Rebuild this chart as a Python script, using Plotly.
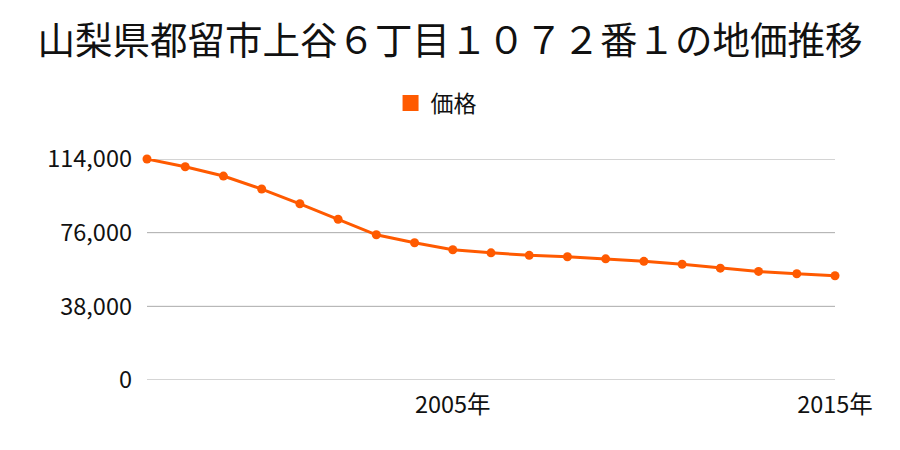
import plotly.graph_objects as go

years = list(range(1997, 2016))
prices = [114000, 110000, 105200, 98500, 90900, 82900, 74900, 70800, 67200,
          65600, 64300, 63600, 62500, 61200, 59700, 57700, 56000, 54800, 53800]
y_ticks = [0, 38000, 76000, 114000]
y_tick_labels = ["0", "38,000", "76,000", "114,000"]
x_ticks = [2005, 2015]
x_tick_labels = ["2005年", "2015年"]

title = "山梨県都留市上谷６丁目１０７２番１の地価推移"
color = "#ff5a00"
font = "Noto Sans CJK JP"

fig = go.Figure()
fig.add_trace(go.Scatter(
    x=years, y=prices, mode="lines+markers", name="価格",
    line=dict(color=color, width=3),
    marker=dict(color=color, size=9),
    cliponaxis=False, showlegend=False,
))
fig.add_trace(go.Scatter(
    x=[None], y=[None], mode="markers", name="価格",
    marker=dict(color=color, size=22, symbol="square"),
    showlegend=True,
))

for v in y_ticks:
    fig.add_shape(type="line", xref="paper", x0=0, x1=1, yref="y", y0=v, y1=v,
                  line=dict(color="#aaaaaa", width=1), layer="below")

fig.update_layout(
    width=900, height=450,
    margin=dict(l=147, r=65, t=159, b=70),
    paper_bgcolor="white", plot_bgcolor="white",
    font=dict(family=font, color="#111111"),
    title=dict(text=title, x=0.5, xanchor="center", y=0.91, yanchor="middle",
               font=dict(size=37.5, family=font, color="#111111")),
    showlegend=True,
    legend=dict(orientation="h", x=0.354, xanchor="left", y=1.253, yanchor="middle",
                font=dict(size=23, family=font), itemsizing="trace"),
    xaxis=dict(range=[1997, 2015], tickvals=x_ticks, ticktext=x_tick_labels,
               showgrid=False, zeroline=False, showline=False, ticks="",
               ticklabelstandoff=8,
               tickfont=dict(size=23.5, family=font)),
    yaxis=dict(range=[0, 114000], tickvals=y_ticks, ticktext=y_tick_labels,
               showgrid=False, zeroline=False,
               showline=False, ticks="", ticklen=0, ticklabelstandoff=14,
               tickfont=dict(size=23.5, family=font)),
)

fig.write_html("out.html")
